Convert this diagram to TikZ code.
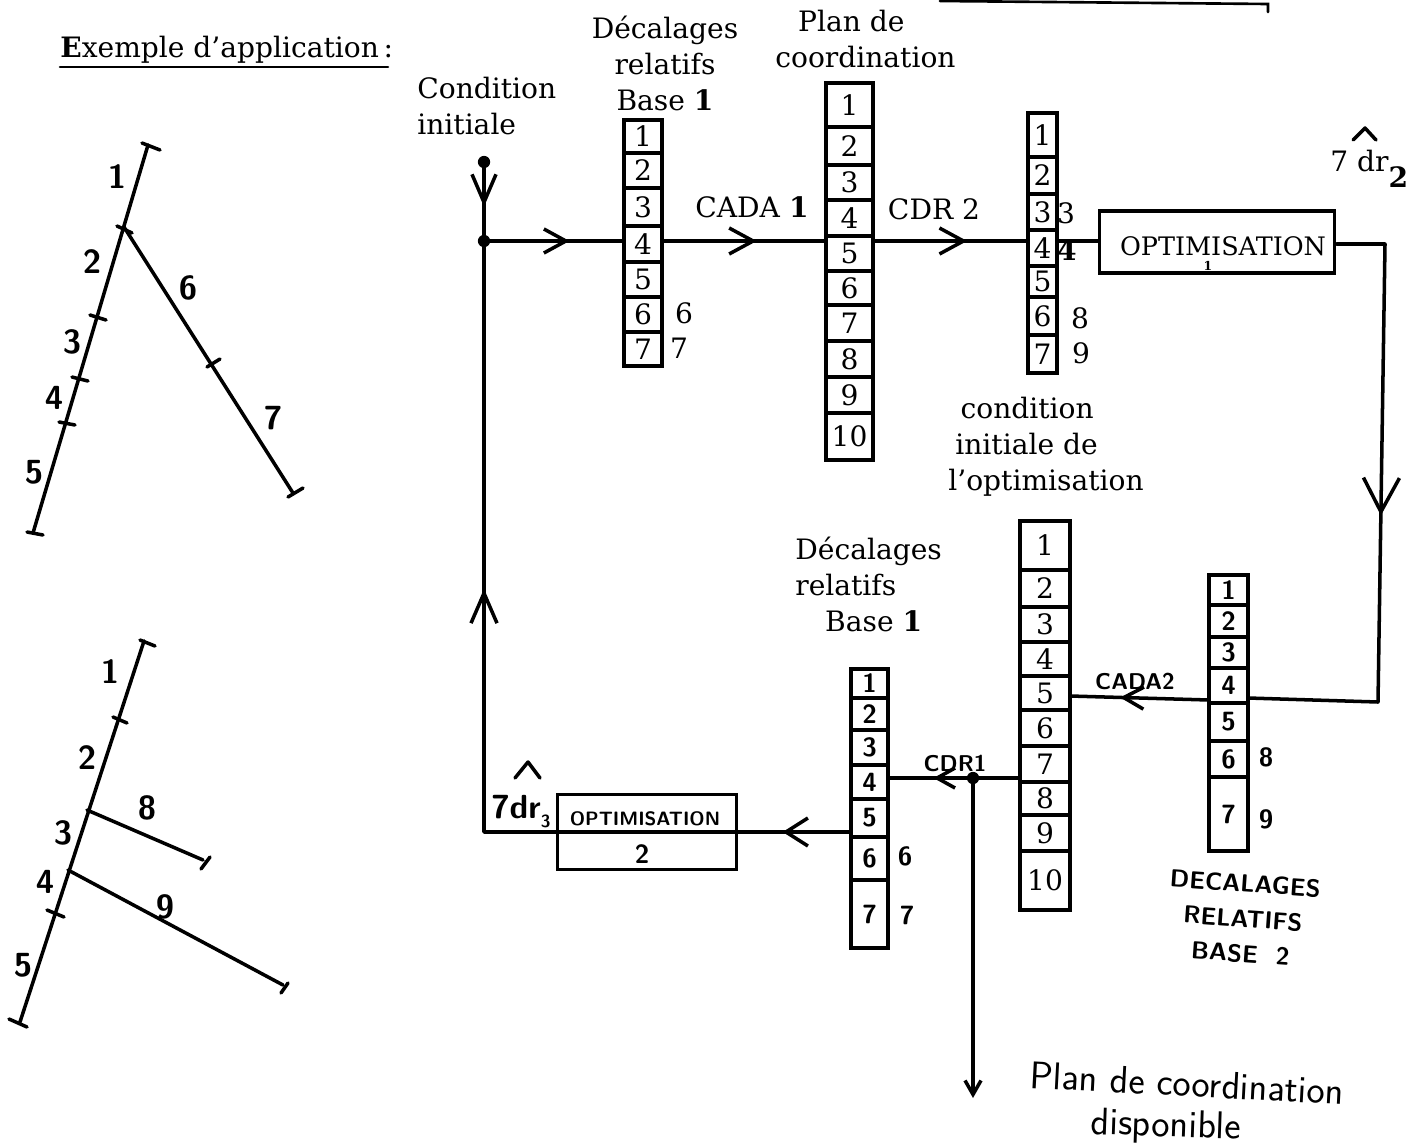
\documentclass[tikz,border=0pt]{standalone}
\usepackage{fontspec}
\setmainfont{DejaVu Serif}
\usetikzlibrary{arrows.meta,decorations.markings}
\newcommand{\police}{\fontsize{16}{20.4}\selectfont}
\newcommand{\manuscrit}{\fontsize{15}{20}\selectfont\sffamily\bfseries}
\newcommand{\manuscritg}{\fontsize{19}{20}\selectfont\sffamily\bfseries}
\tikzset{
	trait/.style={line width=2pt, line cap=round, line join=round},
	fin/.style={line width=1.5pt, line cap=round},
	caseimp/.style={draw, rectangle, line width=2pt, inner sep=0pt, font=\police},
	casemain/.style={draw, rectangle, line width=2pt, inner sep=0pt, font=\manuscrit},
	texte/.style={font=\police, inner sep=0pt},
	main/.style={font=\manuscrit, inner sep=0pt},
	maing/.style={font=\manuscritg, inner sep=0pt},
	point/.style={circle, fill=black, inner sep=0pt, minimum size=7pt},
	fleche/.style args={#1/#2/#3}{postaction={decorate}, decoration={markings,
			mark=at position #1 with {\arrow[line width=2pt]{Straight Barb[length=#2*0.02cm, width=#3*0.02cm]}}}}
}
\newcommand{\colonne}[5]{%
	\foreach \yh/\yb [count=\n] in {#5} {%
		\pgfmathsetmacro{\lx}{#4-#3}%
		\pgfmathsetmacro{\ly}{\yb-\yh}%
		\pgfmathsetmacro{\xm}{(#3+#4)/2}%
		\pgfmathsetmacro{\ym}{(\yh+\yb)/2}%
		\node[#2, minimum width=\lx*0.02cm, minimum height=\ly*0.02cm] (#1\n) at (\xm,\ym) {\n};
	}%
}

\begin{document}
\begin{tikzpicture}[x=0.02cm, y=-0.02cm]
	\useasboundingbox (0,0) rectangle (1423,1146);
	\node[texte, anchor=base west] (titre) at (60,57) {\textbf{E}xemple d'application\,:};
	\draw[fin] (60,67) -- (388,67);
	\coordinate (hautA) at (940,1);
	\coordinate (hautB) at (1268,4);
	\coordinate (hautC) at (1268,12);
	\draw[fin] (hautA) -- (hautB) -- (hautC);

	\draw[trait] (148,145) -- (33,533);
	\draw[trait] (124,227) -- (293,493);
	\foreach \xa/\ya/\xb/\yb in {142/143/160/150, 117/226/132/233, 90/315/106/320, 72/377/88/381, 59/422/75/425, 27/532/43/535, 207/367/220/359, 288/497/303/488} {
		\draw[trait] (\xa,\ya) -- (\xb,\yb);
	}
	\node[maing] (un1) at (117,177) {1};
	\node[maing] (deux1) at (92,262) {2};
	\node[maing] (trois1) at (72,342) {3};
	\node[maing] (quatre1) at (54,398) {4};
	\node[maing] (cinq1) at (34,472) {5};
	\node[maing] (six1) at (188,288) {6};
	\node[maing] (sept1) at (273,418) {7};

	\draw[trait] (144,641) -- (20,1022);
	\draw[trait] (87,810) -- (203,860);
	\draw[trait] (68,870) -- (283,985);
	\foreach \xa/\ya/\xb/\yb in {140/640/155/646, 113/717/127/723, 47/910/64/917, 9/1019/27/1027, 210/857/201/869, 288/983/281/993} {
		\draw[trait] (\xa,\ya) -- (\xb,\yb);
	}
	\node[maing] (un2) at (110,672) {1};
	\node[maing] (deux2) at (87,758) {2};
	\node[maing] (trois2) at (63,833) {3};
	\node[maing] (quatre2) at (45,882) {4};
	\node[maing] (cinq2) at (23,965) {5};
	\node[maing] (huit2) at (147,808) {8};
	\node[maing] (neuf2) at (165,907) {9};

	\colonne{a}{caseimp}{624}{662}{120/153,153/188,188/226,226/262,262/297,297/332,332/366}
	\colonne{b}{caseimp}{826}{873}{83/127,127/165,165/200,200/236,236/271,271/305,305/341,341/377,377/413,413/460}
	\colonne{c}{caseimp}{1028}{1057}{113/157,157/194,194/230,230/266,266/297,297/335,335/373}
	\colonne{d}{casemain}{1209}{1248}{575/605,605/637,637/668,668/703,703/741,741/777,777/851}
	\colonne{e}{caseimp}{1020}{1070}{521/570,570/607,607/642,642/676,676/710,710/746,746/782,782/815,815/851,851/910}
	\colonne{f}{casemain}{851}{888}{669/698,698/730,730/765,765/799,799/837,837/880,880/948}

	\node[draw, line width=2pt, minimum width=235*0.02cm, minimum height=62*0.02cm] (boite1) at (1217,242) {};
	\node[font=\fontsize{14.5}{16}\selectfont, inner sep=0pt] (opti1) at (1223,246) {OPTIMISATION};
	\node[font=\fontsize{7}{8}\selectfont\bfseries, inner sep=0pt] (num1) at (1208,266) {1};
	\node[draw, line width=2pt, minimum width=179*0.02cm, minimum height=75*0.02cm] (boite2) at (647,832) {};
	\node[font=\fontsize{11}{12}\selectfont\sffamily\bfseries, inner sep=0pt] (opti2) at (645,819) {OPTIMISATION};
	\node[main] (num2) at (642,854) {2};

	\node[point] (source) at (484,162) {};
	\node[point] (depart) at (484,241) {};
	\node[point] (sortie) at (973,778) {};
	\coordinate (angleA) at (1385,244);
	\coordinate (angleB) at (1378,702);
	\coordinate (angleC) at (484,832);
	\coordinate (sortieD) at (1248,698);
	\coordinate (entreeD) at (1209,700);
	\coordinate (entreeE) at (1070,696);
	\coordinate (finsortie) at (973,1098);

	\draw[trait, fleche=.58/28/24] (source) -- (depart);
	\draw[trait, fleche=.6/22/24] (depart) -- (a4.west |- depart);
	\draw[trait, fleche=.58/24/26] (a4.east |- depart) -- (b5.west |- depart);
	\draw[trait, fleche=.61/24/26] (b5.east |- depart) -- (c4.west |- depart);
	\draw[trait] (c4.east |- depart) -- (boite1.west |- depart);
	\draw[trait, fleche=.503/34/36] (boite1.east |- angleA) -- (angleA) -- (angleB) -- (sortieD);
	\draw[trait, fleche=.64/20/22] (entreeD) -- (entreeE);
	\draw[trait, fleche=.66/18/20] (e7.west |- sortie) -- (f4.east |- sortie);
	\draw[trait, fleche=.6/22/28] (f5.west |- boite2.east) -- (boite2.east);
	\draw[trait] (boite2.east) -- (boite2.west);
	\draw[trait, fleche=.48/30/26] (boite2.west) -- (angleC) -- (depart);
	\draw[trait, -{Straight Barb[length=14*0.02cm, width=16*0.02cm]}] (sortie) -- (finsortie);

	\node[texte, align=center, anchor=north] (decalA) at (665,16) {D\'ecalages\\relatifs\\Base \textbf{1}};
	\node[texte, align=left, anchor=north west] (plan) at (775,10) {\hspace*{13pt}Plan de\\coordination};
	\node[texte, align=left, anchor=north west] (condition) at (417,77) {Condition\\initiale};
	\node[texte, align=left, anchor=north west] (condopt) at (948,397) {\hspace*{7pt}condition\\\hspace*{4pt}initiale de\\l'optimisation};
	\node[texte, align=left, anchor=north west] (decalB) at (795,537) {D\'ecalages\\relatifs\\\hspace*{17pt}Base \textbf{1}};
	\node[texte] (cada1) at (752,207) {CADA \textbf{1}};
	\node[texte] (cdr2) at (934,209) {CDR 2};
	\node[main, font=\fontsize{13}{14}\selectfont\sffamily\bfseries] (cada2) at (1135,681) {CADA2};
	\node[main, font=\fontsize{13}{14}\selectfont\sffamily\bfseries] (cdr1) at (955,763) {CDR1};

	\node[texte] (a6bis) at (684,313) {6};
	\node[texte] (a7bis) at (679,348) {7};
	\node[texte] (c3bis) at (1066,213) {3};
	\node[texte] (c4bis) at (1067,250) {\textbf{4}};
	\node[texte] (c6bis) at (1080,318) {8};
	\node[texte] (c7bis) at (1081,353) {9};
	\node[main] (f6bis) at (905,856) {6};
	\node[main] (f7bis) at (907,915) {7};
	\node[main] (d6bis) at (1266,757) {8};
	\node[main] (d7bis) at (1266,819) {9};

	\node[texte, anchor=base west] (drA) at (1330,171) {7 dr\raisebox{-1.1ex}{\textbf{2}}};
	\coordinate (chapA) at (1353,140);
	\coordinate (chapB) at (1365,128);
	\coordinate (chapC) at (1376,140);
	\draw[trait] (chapA) -- (chapB) -- (chapC);
	\node[maing, anchor=base west] (drB) at (491,818) {7dr\raisebox{-.6ex}{\fontsize{10}{10}\selectfont 3}};
	\coordinate (chapD) at (515,778);
	\coordinate (chapE) at (528,762);
	\coordinate (chapF) at (540,778);
	\draw[trait] (chapD) -- (chapE) -- (chapF);

	\node[font=\fontsize{14}{20}\selectfont\sffamily\bfseries, inner sep=0pt, align=center, anchor=north, rotate=-4] (decalC) at (1246,874) {DECALAGES\\RELATIFS\\BASE\ \ 2};
	\node[font=\fontsize{22}{26}\selectfont\sffamily, inner sep=0pt, rotate=-3] (plandispo) at (1187,1083) {Plan de coordination};
	\node[font=\fontsize{22}{26}\selectfont\sffamily, inner sep=0pt, rotate=-2] (dispo) at (1166,1127) {disponible};
\end{tikzpicture}
\end{document}
